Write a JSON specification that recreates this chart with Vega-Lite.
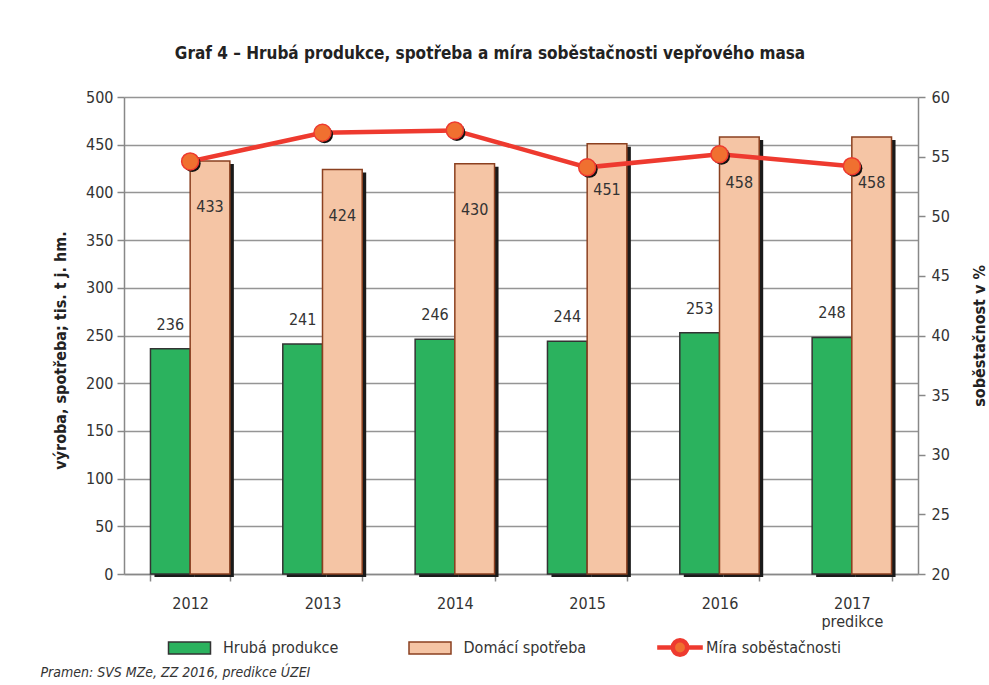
{
  "$schema": "https://vega.github.io/schema/vega-lite/v6.json",
  "width": 794,
  "height": 477,
  "autosize": {"type": "none"},
  "padding": {"left": 124, "top": 97, "right": 71, "bottom": 111},
  "background": "white",
  "config": {
    "font": "DejaVu Sans Condensed",
    "view": {"stroke": null},
    "axis": {"labelFont": "DejaVu Sans Condensed", "titleFont": "DejaVu Sans Condensed"},
    "legend": {"labelFont": "DejaVu Sans Condensed"},
    "text": {"font": "DejaVu Sans Condensed"}
  },
  "title": {
    "text": "Graf 4 – Hrubá produkce, spotřeba a míra soběstačnosti vepřového masa",
    "font": "DejaVu Sans Condensed",
    "fontSize": 17,
    "fontWeight": "bold",
    "color": "#222222",
    "anchor": "middle",
    "dx": -31,
    "offset": 26
  },
  "datasets": {
    "bars": [
      {"year": "2012", "series": "Hrubá produkce", "value": 236},
      {"year": "2012", "series": "Domácí spotřeba", "value": 433},
      {"year": "2013", "series": "Hrubá produkce", "value": 241},
      {"year": "2013", "series": "Domácí spotřeba", "value": 424},
      {"year": "2014", "series": "Hrubá produkce", "value": 246},
      {"year": "2014", "series": "Domácí spotřeba", "value": 430},
      {"year": "2015", "series": "Hrubá produkce", "value": 244},
      {"year": "2015", "series": "Domácí spotřeba", "value": 451},
      {"year": "2016", "series": "Hrubá produkce", "value": 253},
      {"year": "2016", "series": "Domácí spotřeba", "value": 458},
      {"year": "2017", "series": "Hrubá produkce", "value": 248},
      {"year": "2017", "series": "Domácí spotřeba", "value": 458}
    ],
    "ratio": [
      {"year": "2012", "name": "Míra soběstačnosti", "ratio": 54.6},
      {"year": "2013", "name": "Míra soběstačnosti", "ratio": 57.0},
      {"year": "2014", "name": "Míra soběstačnosti", "ratio": 57.2},
      {"year": "2015", "name": "Míra soběstačnosti", "ratio": 54.1},
      {"year": "2016", "name": "Míra soběstačnosti", "ratio": 55.2},
      {"year": "2017", "name": "Míra soběstačnosti", "ratio": 54.2}
    ]
  },
  "layer": [
    {
      "data": {"name": "bars"},
      "encoding": {
        "x": {"field": "year", "type": "nominal", "scale": {"paddingInner": 0.4, "paddingOuter": 0.2}},
        "y": {"field": "value", "type": "quantitative", "scale": {"domain": [0, 500]}}
      },
      "layer": [
        {
          "transform": [{"filter": "datum.series == 'Hrubá produkce'"}],
          "mark": {"type": "bar", "fill": "#1a1a1a", "width": {"band": 0.5}, "xOffset": -15.85, "yOffset": 3}
        },
        {
          "transform": [{"filter": "datum.series == 'Domácí spotřeba'"}],
          "mark": {"type": "bar", "fill": "#1a1a1a", "width": {"band": 0.5}, "xOffset": 23.85, "yOffset": 3}
        },
        {
          "transform": [{"filter": "datum.series == 'Hrubá produkce'"}],
          "mark": {"type": "bar", "strokeWidth": 1.5, "width": {"band": 0.5}, "xOffset": -19.85},
          "encoding": {
            "x": {
              "field": "year", "type": "nominal",
              "axis": {
                "labelAngle": 0,
                "labelAlign": "center",
                "labelFontSize": 16,
                "labelColor": "#333333",
                "labelPadding": 22,
                "labelLineHeight": 18,
                "labelExpr": "datum.value == '2017' ? ['2017', 'predikce'] : datum.value",
                "domainColor": "#888888",
                "domainWidth": 1.5,
                "tickColor": "#888888",
                "tickWidth": 1.5,
                "tickSize": 7,
                "tickBand": "extent",
                "title": "Pramen: SVS MZe, ZZ 2016, predikce ÚZEI",
                "titleFontSize": 14,
                "titleFontStyle": "italic",
                "titleFontWeight": "normal",
                "titleColor": "#333333",
                "titleAnchor": "start",
                "titleAlign": "left",
                "titleBaseline": "top",
                "titleX": -84,
                "titleY": 91
              }
            },
            "y": {
              "field": "value", "type": "quantitative",
              "axis": {
                "orient": "left",
                "values": [0, 50, 100, 150, 200, 250, 300, 350, 400, 450, 500],
                "grid": true,
                "gridColor": "#959595",
                "gridWidth": 1.5,
                "domainColor": "#888888",
                "domainWidth": 1.5,
                "tickColor": "#888888",
                "tickWidth": 1.5,
                "tickSize": 7,
                "labelFontSize": 16,
                "labelColor": "#333333",
                "labelPadding": 4,
                "title": "výroba, spotřeba;  tis. t j. hm.",
                "titleFontSize": 16,
                "titleFontWeight": "bold",
                "titleColor": "#222222",
                "titlePadding": 17,
                "titleY": 253
              }
            },
            "fill": {
              "field": "series", "type": "nominal",
              "scale": {
                "domain": ["Hrubá produkce", "Domácí spotřeba"],
                "range": ["#2bb25e", "#f5c5a5"]
              },
              "legend": {
                "orient": "none",
                "legendX": 52.5,
                "legendY": 538,
                "direction": "horizontal",
                "columns": 2,
                "gridAlign": "all",
                "columnPadding": 59.5,
                "title": null,
                "labelFontSize": 16,
                "labelColor": "#333333",
                "labelOffset": 20.5,
                "symbolSize": 576,
                "symbolStrokeWidth": 1.5,
                "symbolType": "M-1.75,-0.5H1.75V0.5H-1.75Z",
                "encode": {
                  "symbols": {
                    "update": {
                      "stroke": {"signal": "datum.value === 'Hrubá produkce' ? '#333333' : '#8b4020'"}
                    }
                  }
                }
              }
            },
            "stroke": {
              "field": "series", "type": "nominal",
              "scale": {"domain": ["Hrubá produkce", "Domácí spotřeba"], "range": ["#333333", "#8b4020"]},
              "legend": null
            }
          }
        },
        {
          "transform": [{"filter": "datum.series == 'Domácí spotřeba'"}],
          "mark": {"type": "bar", "strokeWidth": 1.5, "width": {"band": 0.5}, "xOffset": 19.85},
          "encoding": {
            "fill": {"field": "series", "type": "nominal"},
            "stroke": {"field": "series", "type": "nominal"}
          }
        },
        {
          "transform": [{"filter": "datum.series == 'Hrubá produkce'"}],
          "mark": {"type": "text", "dx": -19.85, "dy": -24, "baseline": "middle", "fontSize": 16, "color": "#333333"},
          "encoding": {"text": {"field": "value", "type": "quantitative"}}
        },
        {
          "transform": [{"filter": "datum.series == 'Domácí spotřeba'"}],
          "mark": {"type": "text", "dx": 19.85, "dy": 46, "baseline": "middle", "fontSize": 16, "color": "#333333"},
          "encoding": {"text": {"field": "value", "type": "quantitative"}}
        }
      ]
    },
    {
      "data": {"name": "ratio"},
      "encoding": {
        "x": {"field": "year", "type": "nominal"},
        "y": {"field": "ratio", "type": "quantitative", "scale": {"domain": [20, 60]}}
      },
      "layer": [
        {
          "mark": {"type": "line", "stroke": "#ee3a2f"},
          "encoding": {
            "y": {
              "field": "ratio", "type": "quantitative",
              "axis": {
                "orient": "right",
                "values": [20, 25, 30, 35, 40, 45, 50, 55, 60],
                "grid": false,
                "domainColor": "#888888",
                "domainWidth": 1.5,
                "tickColor": "#888888",
                "tickWidth": 1.5,
                "tickSize": 7,
                "labelFontSize": 16,
                "labelColor": "#333333",
                "labelPadding": 6,
                "title": "soběstačnost v %",
                "titleAngle": 270,
                "titleFontSize": 16,
                "titleFontWeight": "bold",
                "titleColor": "#222222",
                "titlePadding": 38
              }
            },
            "strokeWidth": {
              "field": "name", "type": "ordinal",
              "scale": {"range": [4.5, 4.5]},
              "legend": {
                "orient": "none",
                "legendX": 541.5,
                "legendY": 536,
                "title": null,
                "labelFontSize": 16,
                "labelColor": "#333333",
                "labelOffset": 11.5,
                "symbolSize": 576,
                "symbolType": "M-1.9,0H-0.6M0.6,0H1.9M-0.6,0A0.6,0.6 0 1,0 0.6,0A0.6,0.6 0 1,0 -0.6,0Z",
                "symbolFillColor": "#f07030",
                "symbolStrokeColor": "#ee3a2f",
                "encode": {
                  "symbols": {
                    "update": {
                      "fill": {"value": "#f07030"},
                      "stroke": {"value": "#ee3a2f"},
                      "strokeWidth": {"value": 4},
                      "opacity": {"value": 1}
                    }
                  }
                }
              }
            }
          }
        },
        {
          "mark": {"type": "circle", "fill": "#111111", "opacity": 1, "size": 290, "xOffset": 2, "yOffset": 2}
        },
        {
          "mark": {"type": "circle", "opacity": 1, "size": 290, "fill": "#f07030", "stroke": "#ee3a2f", "strokeWidth": 1.5}
        }
      ]
    }
  ],
  "resolve": {"scale": {"y": "independent"}}
}
